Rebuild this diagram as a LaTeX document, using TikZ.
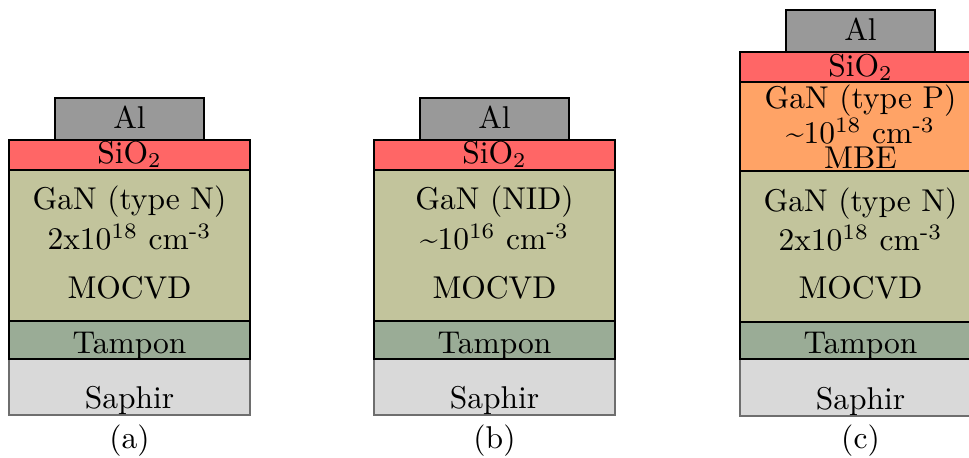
\documentclass[tikz,border=0pt]{standalone}
\definecolor{alc}{RGB}{153,153,153}
\definecolor{sioc}{RGB}{255,102,102}
\definecolor{ganc}{RGB}{194,196,156}
\definecolor{ganpc}{RGB}{255,163,102}
\definecolor{tampc}{RGB}{154,172,150}
\definecolor{saphc}{RGB}{217,217,217}
\definecolor{saphb}{RGB}{110,110,110}
\tikzset{
  layer/.style={draw=black, line width=0.4pt},
  lbl/.style={anchor=base, inner sep=0pt, font=\fontsize{10.4}{12.5}\selectfont},
}
\begin{document}
\begin{tikzpicture}[x=0.33pt,y=-0.33pt]
\useasboundingbox (0,0) rectangle (969,457);
\clip (0,0) rectangle (969,457);
% ---------- (a)
\draw[layer, fill=saphc, draw=saphb] (9,359) rectangle (250,415);
\draw[layer, fill=tampc] (9,321) rectangle (250,359);
\draw[layer, fill=ganc] (9,170) rectangle (250,321);
\draw[layer, fill=sioc] (9,140) rectangle (250,170);
\draw[layer, fill=alc] (55,98) rectangle (204,140);
\node[lbl] (a-al) at (129.5,128) {Al};
\node[lbl] (a-sio) at (129.5,163) {SiO$_2$};
\node[lbl] (a-g1) at (129.5,209) {GaN (type N)};
\node[lbl] (a-g2) at (129.5,249) {2x10\textsuperscript{18} cm\textsuperscript{-3}};
\node[lbl] (a-g3) at (129.5,298) {MOCVD};
\node[lbl] (a-tamp) at (129.5,353) {Tampon};
\node[lbl] (a-saph) at (129.5,408) {Saphir};
\node[lbl] (a-cap) at (129.5,448) {(a)};
% ---------- (b)
\draw[layer, fill=saphc, draw=saphb] (374,359) rectangle (615,415);
\draw[layer, fill=tampc] (374,321) rectangle (615,359);
\draw[layer, fill=ganc] (374,170) rectangle (615,321);
\draw[layer, fill=sioc] (374,140) rectangle (615,170);
\draw[layer, fill=alc] (420,98) rectangle (569,140);
\node[lbl] (b-al) at (494.5,128) {Al};
\node[lbl] (b-sio) at (494.5,163) {SiO$_2$};
\node[lbl] (b-g1) at (494.5,209) {GaN (NID)};
\node[lbl] (b-g2) at (494.5,249) {\textasciitilde10\textsuperscript{16} cm\textsuperscript{-3}};
\node[lbl] (b-g3) at (494.5,298) {MOCVD};
\node[lbl] (b-tamp) at (494.5,353) {Tampon};
\node[lbl] (b-saph) at (494.5,408) {Saphir};
\node[lbl] (b-cap) at (494.5,448) {(b)};
% ---------- (c)
\draw[layer, fill=saphc, draw=saphb] (740,359) rectangle (981,416);
\draw[layer, fill=tampc] (740,322) rectangle (981,359);
\draw[layer, fill=ganc] (740,171) rectangle (981,322);
\draw[layer, fill=ganpc] (740,82) rectangle (981,171);
\draw[layer, fill=sioc] (740,52) rectangle (981,82);
\draw[layer, fill=alc] (786,10) rectangle (935,52);
\node[lbl] (c-al) at (860.5,40) {Al};
\node[lbl] (c-sio) at (860.5,76) {SiO$_2$};
\node[lbl] (c-p1) at (860.5,108) {GaN (type P)};
\node[lbl] (c-p2) at (860.5,143) {\textasciitilde10\textsuperscript{18} cm\textsuperscript{-3}};
\node[lbl] (c-p3) at (860.5,168) {MBE};
\node[lbl] (c-g1) at (860.5,211) {GaN (type N)};
\node[lbl] (c-g2) at (860.5,250) {2x10\textsuperscript{18} cm\textsuperscript{-3}};
\node[lbl] (c-g3) at (860.5,298) {MOCVD};
\node[lbl] (c-tamp) at (860.5,353) {Tampon};
\node[lbl] (c-saph) at (860.5,409) {Saphir};
\node[lbl] (c-cap) at (860.5,448) {(c)};
\end{tikzpicture}
\end{document}
